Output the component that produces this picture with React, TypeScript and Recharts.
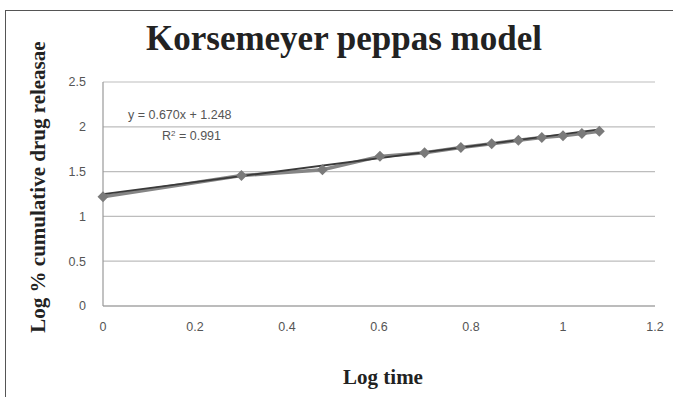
import * as React from "react"
import {
  ComposedChart,
  Line,
  XAxis,
  YAxis,
  CartesianGrid,
  ReferenceLine,
} from "recharts"

// log time values and log % cumulative drug release
const logTime = [0, 0.301, 0.477, 0.602, 0.699, 0.778, 0.845, 0.903, 0.954, 1.0, 1.041, 1.079]
const logRelease = [1.22, 1.456, 1.52, 1.67, 1.71, 1.77, 1.81, 1.85, 1.88, 1.9, 1.925, 1.95]

const xTicks = [0, 0.2, 0.4, 0.6, 0.8, 1, 1.2]
const yTicks = [0, 0.5, 1, 1.5, 2, 2.5]

// linear trendline shown on the chart
const trendSlope = 0.67
const trendIntercept = 1.248
const trendRange = [0, 1.079]

const data = logTime.map((x, i) => ({ x, y: logRelease[i] }))

const tickStyle = { fill: "#555", fontSize: 12.5, fontFamily: "Liberation Sans, Arial, sans-serif" }

function Diamond(props: any) {
  const { cx, cy } = props
  if (cx == null || cy == null) return null
  const r = 5.5
  return (
    <path
      d={`M${cx},${cy - r} L${cx + r},${cy} L${cx},${cy + r} L${cx - r},${cy} Z`}
      fill="#7a7a7a"
    />
  )
}

export default function App() {
  return (
    <div style={{ position: "absolute", left: 0, top: 0, width: 673, height: 397, background: "#fff", overflow: "hidden" }}>
      <ComposedChart
        width={673}
        height={397}
        data={data}
        margin={{ top: 82, right: 18, bottom: 61, left: 0 }}
      >
        <CartesianGrid vertical={false} stroke="#bdbdbd" strokeWidth={1.2} />
        <XAxis
          dataKey="x"
          type="number"
          domain={[0, 1.2]}
          ticks={xTicks}
          height={30}
          axisLine={{ stroke: "#999", strokeWidth: 1.2 }}
          tickLine={false}
          tickSize={0}
          tickMargin={16}
          tick={tickStyle}
          interval={0}
        />
        <YAxis
          type="number"
          domain={[0, 2.5]}
          ticks={yTicks}
          width={103}
          axisLine={{ stroke: "#999", strokeWidth: 1.2 }}
          tickLine={false}
          tickSize={0}
          tickMargin={17}
          tick={tickStyle}
          interval={0}
        />
        <Line
          dataKey="y"
          stroke="#858585"
          strokeWidth={3.5}
          dot={<Diamond />}
          activeDot={false}
          isAnimationActive={false}
        />
        <ReferenceLine
          segment={trendRange.map((x) => ({ x, y: trendSlope * x + trendIntercept }))}
          stroke="#3a3a3a"
          strokeWidth={1.8}
        />
      </ComposedChart>

      {/* frame */}
      <div style={{ position: "absolute", left: 5, top: 10, width: 668, height: 387, boxSizing: "border-box", borderTop: "1.5px solid #555", borderLeft: "1.5px solid #555" }} />

      <div
        style={{
          position: "absolute",
          left: 0,
          width: 688,
          top: 19,
          textAlign: "center",
          fontFamily: "Liberation Serif, Times New Roman, serif",
          fontWeight: "bold",
          fontSize: 35,
          lineHeight: "40px",
          color: "#222",
        }}
      >
        Korsemeyer peppas model
      </div>

      <div
        style={{
          position: "absolute",
          left: 383 - 100,
          width: 200,
          top: 364,
          textAlign: "center",
          fontFamily: "Liberation Serif, Times New Roman, serif",
          fontWeight: "bold",
          fontSize: 21,
          lineHeight: "26px",
          color: "#222",
        }}
      >
        Log time
      </div>

      <div
        style={{
          position: "absolute",
          left: 38 - 170,
          top: 187 - 12,
          width: 340,
          height: 24,
          lineHeight: "24px",
          textAlign: "center",
          transform: "rotate(-90deg)",
          fontFamily: "Liberation Serif, Times New Roman, serif",
          fontWeight: "bold",
          fontSize: 21,
          color: "#222",
          whiteSpace: "nowrap",
        }}
      >
        Log % cumulative drug releasae
      </div>

      <div style={{ position: "absolute", left: 128, top: 108, fontFamily: "Liberation Sans, Arial, sans-serif", fontSize: 12.5, color: "#555", whiteSpace: "nowrap" }}>
        y = 0.670x + 1.248
      </div>
      <div style={{ position: "absolute", left: 162, top: 129, fontFamily: "Liberation Sans, Arial, sans-serif", fontSize: 12.5, color: "#555", whiteSpace: "nowrap" }}>
        R<sup style={{ fontSize: 8, verticalAlign: "top", lineHeight: "10px" }}>2</sup> = 0.991
      </div>
    </div>
  )
}
